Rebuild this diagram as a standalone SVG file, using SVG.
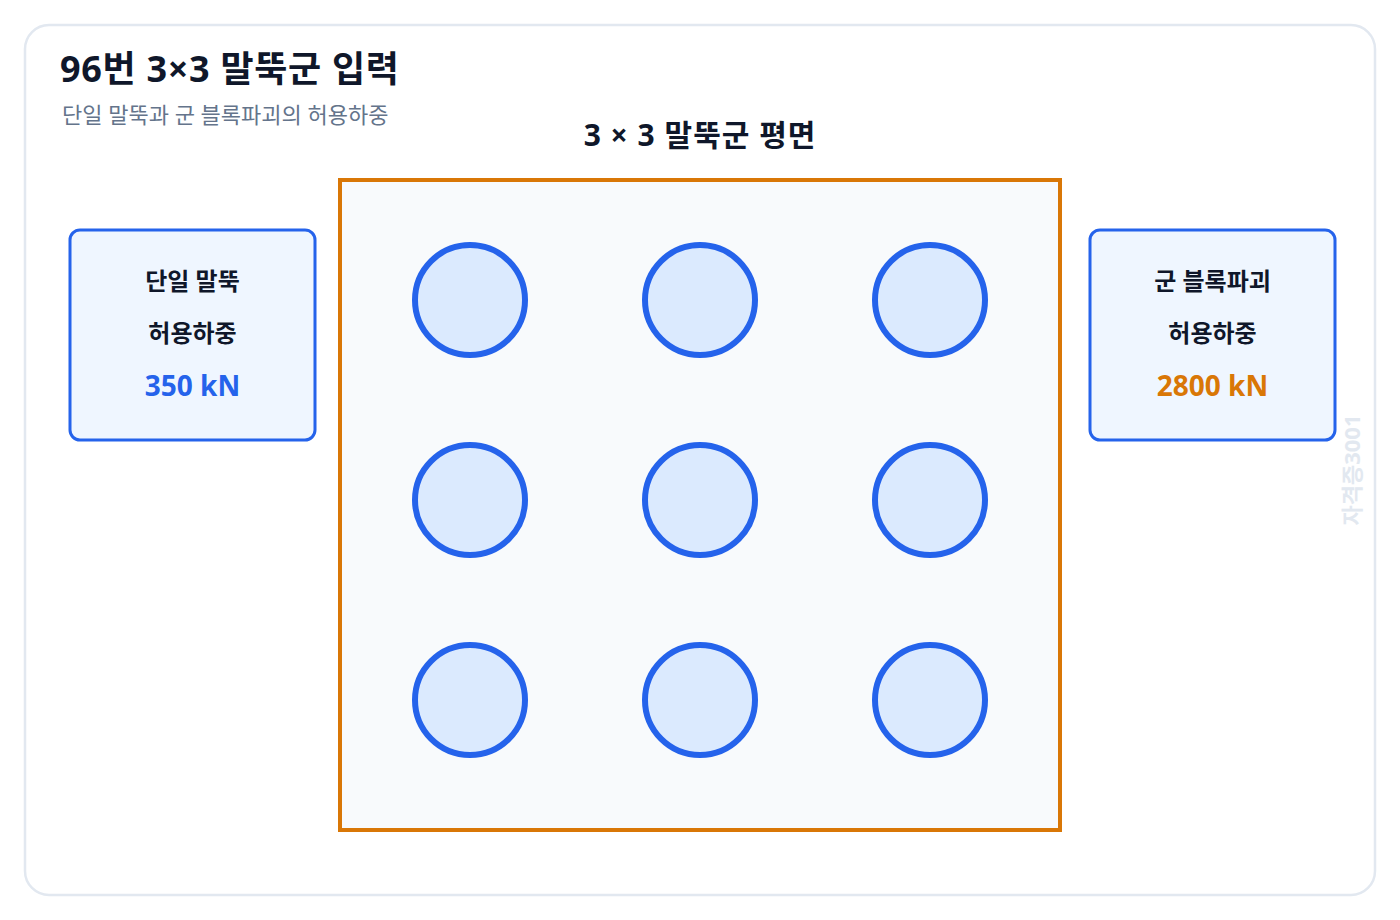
<svg xmlns="http://www.w3.org/2000/svg" width="1400" height="920" viewBox="0 0 1400 920">
<style>
text{font-family:"Noto Sans","Noto Sans CJK KR",sans-serif}
.title{font-size:36px;font-weight:700;fill:#0f172a;letter-spacing:0.7px}
.sub{font-size:22px;fill:#64748b}
.head{font-size:30px;font-weight:700;fill:#0f172a;text-anchor:middle;letter-spacing:1px}
.lbl{font-size:24px;font-weight:600;fill:#0f172a;text-anchor:middle}
.val{font-size:28px;font-weight:700;text-anchor:middle}
.box{fill:#eff6ff;stroke:#2563eb;stroke-width:3}
.pile{fill:#dbeafe;stroke:#2563eb;stroke-width:6}
</style>
<rect x="0" y="0" width="1400" height="920" fill="#ffffff"/>
<rect x="25" y="25" width="1350" height="870" rx="24" fill="#ffffff" stroke="#e2e8f0" stroke-width="2.5"/>
<text class="title" x="60" y="82">96번 3×3 말뚝군 입력</text>
<text class="sub" x="62" y="123">단일 말뚝과 군 블록파괴의 허용하중</text>
<text class="head" x="700" y="146">3 × 3 말뚝군 평면</text>
<g id="group-plan">
<rect x="340" y="180" width="720" height="650" fill="#f8fafc" stroke="#d97706" stroke-width="4"/>
</g>
<g id="piles">
<circle id="p11" class="pile" cx="470" cy="300" r="55"/>
<circle id="p12" class="pile" cx="700" cy="300" r="55"/>
<circle id="p13" class="pile" cx="930" cy="300" r="55"/>
<circle id="p21" class="pile" cx="470" cy="500" r="55"/>
<circle id="p22" class="pile" cx="700" cy="500" r="55"/>
<circle id="p23" class="pile" cx="930" cy="500" r="55"/>
<circle id="p31" class="pile" cx="470" cy="700" r="55"/>
<circle id="p32" class="pile" cx="700" cy="700" r="55"/>
<circle id="p33" class="pile" cx="930" cy="700" r="55"/>
</g>
<g id="single-box">
<rect class="box" x="70" y="230" width="245" height="210" rx="10"/>
<text class="lbl" x="192.5" y="290">단일 말뚝</text>
<text class="lbl" x="192.5" y="342">허용하중</text>
<text class="val" x="192.5" y="396" fill="#2563eb">350 kN</text>
</g>
<g id="group-box">
<rect class="box" x="1090" y="230" width="245" height="210" rx="10"/>
<text class="lbl" x="1212.5" y="290">군 블록파괴</text>
<text class="lbl" x="1212.5" y="342">허용하중</text>
<text class="val" x="1212.5" y="396" fill="#d97706">2800 kN</text>
</g>
<g id="connectors"></g>
<text x="0" y="0" transform="translate(1360 470) rotate(-90)" text-anchor="middle" font-size="22" font-weight="700" fill="#e2e8f0">자격증3001</text>
</svg>
